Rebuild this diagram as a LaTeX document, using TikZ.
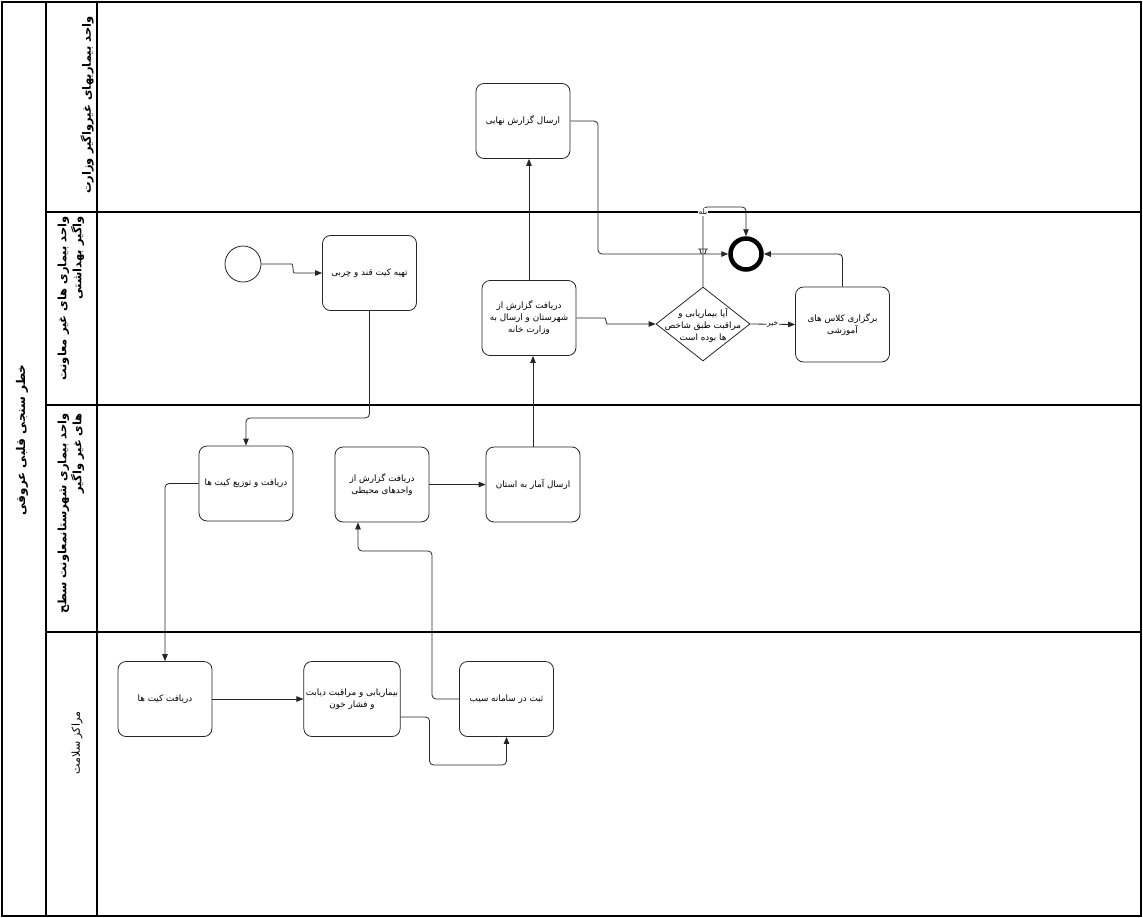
\documentclass[tikz,border=0pt]{standalone}
\usepackage{fontspec}
\usetikzlibrary{arrows.meta,shapes.geometric,calc}
\TeXXeTstate=1
\newfontfamily\faf[Script=Arabic]{DejaVu Sans}
\newcommand\rl[1]{\beginR #1\endR}
\tikzset{
  task/.style={draw=black!85, line width=0.8pt, rounded corners=8pt, minimum width=94pt, minimum height=75pt, align=center, inner sep=2pt, font=\faf\fontsize{8.8}{12}\selectfont},
  flow/.style={draw=black!85, line width=0.8pt, rounded corners=4pt, -{Triangle[length=7pt,width=5.5pt]}},
  lanelbl/.style={rotate=90, inner sep=0pt, font=\faf\bfseries\fontsize{11.5}{15}\selectfont},
  frame/.style={draw=black, line width=1.1pt},
  tinylbl/.style={fill=white, inner sep=0.5pt, font=\faf\fontsize{7.5}{8}\selectfont}
}
\begin{document}
\begin{tikzpicture}[x=1pt,y=-1pt]
\useasboundingbox (0,0) rectangle (1143,918);
% pool and lanes
\draw[frame] (2,2) rectangle (1141,916);
\draw[frame] (46,2) -- (46,916);
\draw[frame] (97,2) -- (97,916);
\draw[frame] (46,212) -- (1141,212);
\draw[frame] (46,405) -- (1141,405);
\draw[frame] (46,632) -- (1141,632);
\node[lanelbl, font=\faf\bfseries\fontsize{12}{15}\selectfont] (pool) at (22,440) {\rl{خطر سنجی قلبی عروقی}};
\node[lanelbl, anchor=east] (lane1) at (87,16) {\rl{واحد بیماریهای غیرواگیر وزارت}};
\node[lanelbl, anchor=east, align=right] (lane2) at (71,216) {\rl{واحد بیماری های غیر  معاونت}\\\rl{واگیر بهداشتی}};
\node[lanelbl, anchor=east, align=right] (lane3) at (71,413) {\rl{واحد بیماری  شهرستانمعاونت سطح}\\\rl{های غیر واگیر}};
\node[lanelbl, font=\faf\fontsize{11}{15}\selectfont] (lane4) at (77,743) {\rl{مراکز سلامت}};

% nodes
\node[draw=black!85, line width=0.8pt, circle, minimum size=36pt, inner sep=0pt] (start) at (243,264) {};
\node[task] (tahie) at (369.5,273) {\rl{تهیه کیت قند و چربی}};
\node[task] (nahai) at (523,121) {\rl{ارسال گزارش نهایی}};
\node[task] (shahr) at (529,318) {\rl{دریافت گزارش از}\\\rl{شهرستان و ارسال به}\\\rl{وزارت خانه}};
\node[draw=black!85, line width=0.8pt, diamond, minimum width=94pt, minimum height=74pt, inner sep=0pt] (dia) at (703,324) {};
\node[align=center, inner sep=0pt, font=\faf\fontsize{8.8}{12}\selectfont] (diat) at (703,325) {\rl{آیا بیماریابی و}\\\rl{مراقبت طبق شاخص}\\\rl{ها بوده است}};
\node[draw=black, line width=4.5pt, circle, minimum size=31pt, inner sep=0pt] (endc) at (746,254) {};
\node[task] (barg) at (842.5,324.5) {\rl{برگزاری کلاس های}\\\rl{آموزشی}};
\node[task] (tozi) at (246,483.5) {\rl{دریافت و توزیع کیت ها}};
\node[task] (vahed) at (382,484.5) {\rl{دریافت گزارش از}\\\rl{واحدهای محیطی}};
\node[task] (amar) at (533,484.5) {\rl{ارسال آمار به استان}};
\node[task] (kit) at (165,699) {\rl{دریافت کیت ها}};
\node[task] (bimar) at (352,699) {\rl{بیماریابی و مراقبت دیابت}\\\rl{و فشار خون}};
\node[task] (sabt) at (506.5,699) {\rl{ثبت در سامانه سیب}};

% connectors
\draw[flow] (start.east) -- (288,264) to[out=0,in=180] (298,273) -- (tahie.west);
\draw[flow] (tahie.south) -- ++(0,107) -| (tozi.north);
\draw[flow] (tozi.west) -| (kit.north);
\draw[flow] (kit.east) -- (bimar.west);
\draw[flow] ([yshift=-18pt]bimar.east) -- ++(29,0) -- ++(0,48) -| (sabt.south);
\draw[flow] (sabt.west) -- (432,699) |- (358,551) -- ([xshift=-24pt]vahed.south);
\draw[flow] (vahed.east) -- (amar.west);
\draw[flow] (amar.north) -- (amar.north |- shahr.south);
\draw[flow] (shahr.north) -- (shahr.north |- nahai.south);
\draw[flow] (shahr.east) -- (601,318) to[out=0,in=180] (611,324) -- (dia.west);
\draw[flow] (dia.east) -- node[tinylbl, pos=0.5] (no) {\rl{خیر}} (barg.west);
\draw[flow] (dia.north) -- (703,207) -| (endc.north);
\node[tinylbl] (yes) at (703,212) {\rl{بله}};
\draw[flow] (barg.north) |- (endc.east);
\draw[flow] (nahai.east) -| (598,254) -- (698,254) .. controls (700,254) and (701,249) .. (703,249) .. controls (705,249) and (706,254) .. (708,254) -- (endc.west);
\end{tikzpicture}
\end{document}
